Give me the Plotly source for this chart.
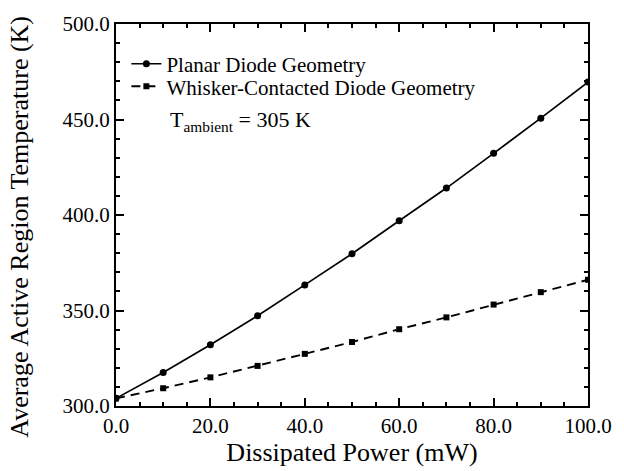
import plotly.graph_objects as go

power_mw = [0, 10, 20, 30, 40, 50, 60, 70, 80, 90, 100]
planar_temp = [304.0, 317.5, 332.1, 347.3, 363.4, 379.7, 397.0, 414.1, 432.3, 450.7, 469.6]
whisker_temp = [304.0, 309.3, 315.0, 321.0, 327.3, 333.5, 340.2, 346.4, 353.1, 359.6, 366.1]

x_ticks = [0, 20, 40, 60, 80, 100]
y_ticks = [300, 350, 400, 450, 500]

FONT = "Liberation Serif"

fig = go.Figure()
fig.add_trace(go.Scatter(
    x=power_mw, y=planar_temp, mode="lines+markers",
    name="Planar Diode Geometry", legend="legend",
    line=dict(color="black", width=1.7),
    marker=dict(symbol="circle", size=7, color="black"),
))
fig.add_trace(go.Scatter(
    x=power_mw, y=whisker_temp, mode="lines+markers",
    name="Whisker-Contacted Diode Geometry", legend="legend2",
    line=dict(color="black", width=1.9, dash="9px,6px"),
    marker=dict(symbol="square", size=6, color="black"),
))

fig.add_annotation(
    x=0.11, y=0.745, xref="paper", yref="paper",
    xanchor="left", yanchor="middle", showarrow=False,
    text="T<sub>ambient</sub> = 305 K",
    font=dict(family=FONT, size=22, color="black"),
)

# y-axis title as a rotated annotation so it can sit exactly where the reference has it
fig.add_annotation(
    x=-0.205, y=0.47, xref="paper", yref="paper",
    xanchor="center", yanchor="middle", showarrow=False, textangle=-90,
    text="Average Active Region Temperature (K)",
    font=dict(family=FONT, size=26, color="black"),
)

axis_common = dict(
    showline=True, linewidth=2, linecolor="black", mirror="allticks",
    ticks="inside", ticklen=8, tickwidth=2, tickcolor="black",
    showgrid=False, zeroline=False,
    tickfont=dict(family=FONT, size=21, color="black"),
    tickformat=".1f",
)

legend_common = dict(
    x=0.022, xanchor="left", yanchor="middle",
    bgcolor="rgba(0,0,0,0)", borderwidth=0,
    font=dict(family=FONT, size=21, color="black"),
    itemwidth=30,
)

fig.update_layout(
    width=624, height=471,
    margin=dict(l=116, r=25, t=21, b=61),
    paper_bgcolor="white", plot_bgcolor="white",
    font=dict(family=FONT, color="black"),
    xaxis=dict(
        range=[0, 100], tickvals=x_ticks,
        title=dict(text="Dissipated Power (mW)", font=dict(family=FONT, size=26), standoff=3),
        minor=dict(dtick=5, ticks="inside", ticklen=4, tickwidth=2, tickcolor="black"),
        **axis_common,
    ),
    yaxis=dict(
        range=[300, 500], tickvals=y_ticks,
        minor=dict(dtick=10, ticks="inside", ticklen=4, tickwidth=2, tickcolor="black"),
        **axis_common,
    ),
    legend=dict(y=0.895, **legend_common),
    legend2=dict(y=0.836, **legend_common),
    showlegend=True,
)

fig.write_html("out.html")
